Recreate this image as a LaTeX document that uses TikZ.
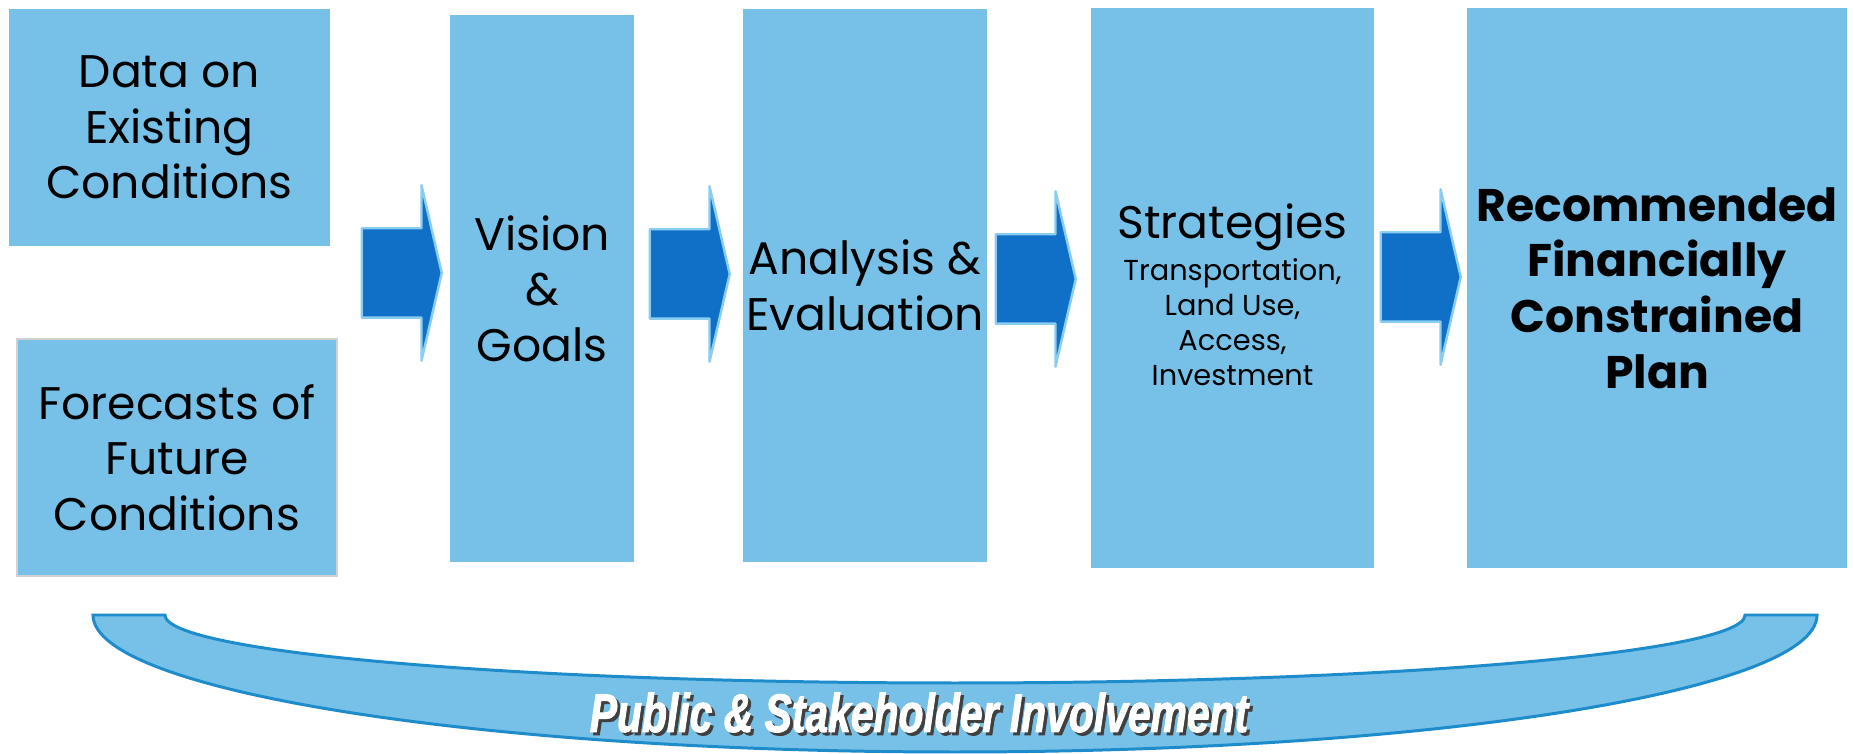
\documentclass[tikz,border=0pt]{standalone}
\usepackage{fontspec}
\setmainfont{Poppins}
\newfontfamily\bannerfont[FakeStretch=0.75,FakeBold=1.6]{Liberation Sans}
\usetikzlibrary{shapes.arrows}

\definecolor{boxblue}{HTML}{77C1E8}
\definecolor{arrowblue}{HTML}{106FC6}
\definecolor{arrowrim}{HTML}{8ACDF2}
\definecolor{bandline}{HTML}{1E8BCB}

\newcommand{\sublist}[1]{{\fontsize{8.2}{10}\selectfont\begin{tabular}[t]{@{}c@{}}#1\end{tabular}}}

\tikzset{
  stage/.style={fill=boxblue, inner sep=0pt, align=center, text=black,
    font=\fontsize{13}{15.8}\selectfont},
  flow/.style={single arrow, fill=arrowblue, draw=arrowrim, line width=0.7pt, line join=round,
    minimum height=0.80cm, inner xsep=0pt, inner ysep=0.435cm,
    single arrow head extend=0.43cm, single arrow tip angle=154, anchor=tip},
  band/.style={fill=boxblue, draw=bandline, line width=0.85pt},
  bannertext/.style={anchor=base, inner sep=0pt,
    font=\bannerfont\bfseries\itshape\fontsize{15.5}{18}\selectfont}
}

\begin{document}
\begin{tikzpicture}

    % page frame
    \useasboundingbox (0,0) rectangle (18.54,7.54);

    % inputs on the left
    \node[stage, minimum width=3.21cm, minimum height=2.37cm] (data) at (1.695,6.265) {Data on\\Existing\\Conditions};
    \node[stage, draw=black!18, line width=0.6pt, minimum width=3.20cm, minimum height=2.37cm] (forecast) at (1.77,2.965) {Forecasts of\\Future\\Conditions};

    % the planning steps
    \node[stage, minimum width=1.84cm, minimum height=5.47cm] (vision) at (5.42,4.655) {Vision\\\&\\Goals};
    \node[stage, minimum width=2.44cm, minimum height=5.53cm] (analysis) at (8.65,4.685) {Analysis \&\\Evaluation};
    \node[stage, minimum width=2.83cm, minimum height=5.60cm] (strategies) at (12.325,4.66)
        {Strategies\\[-3.8pt]\sublist{Transportation,\\Land Use,\\Access,\\Investment\\[-6.8pt]}};
    \node[stage, minimum width=3.80cm, minimum height=5.60cm, font=\bfseries\fontsize{13}{15.8}\selectfont] (plan) at (16.57,4.66)
        {Recommended\\Financially\\Constrained\\Plan};

    % block arrows between the steps
    \node[flow] (a1) at (4.43,4.81) {};
    \node[flow] (a2) at (7.31,4.80) {};
    \node[flow] (a3) at (10.77,4.75) {};
    \node[flow] (a4) at (14.62,4.77) {};

    % involvement band underneath
    \draw[band] (0.93,1.39) arc[start angle=180, end angle=360, x radius=8.62cm, y radius=1.37cm]
        -- (17.45,1.39) arc[start angle=0, end angle=-180, x radius=7.90cm, y radius=0.68cm] -- cycle;
    \node[bannertext, text=black!75] (shadow) at (9.22,0.19) {Public \& Stakeholder Involvement};
    \node[bannertext, text=white] (banner) at (9.19,0.22) {Public \& Stakeholder Involvement};

\end{tikzpicture}
\end{document}
